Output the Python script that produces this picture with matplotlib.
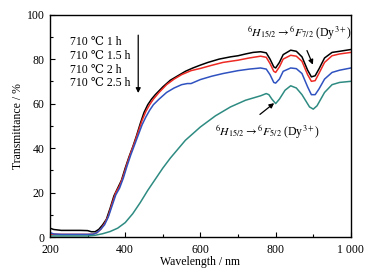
import matplotlib
matplotlib.use("Agg")
import matplotlib.pyplot as plt
import numpy as np

plt.rcParams['font.family'] = ['Liberation Serif', 'DejaVu Serif']
plt.rcParams['mathtext.fontset'] = 'stix'

# wavelength grid (nm) and transmittance (%)
WL_1H = [200, 210, 230, 280, 300, 310, 320, 330, 340, 350, 360, 370, 380, 390, 400, 410, 420,
         430, 440, 450, 460, 470, 480, 500, 520, 540, 560, 580, 600, 620, 650, 680, 700, 720,
         740, 760, 775, 785, 795, 800, 810, 820, 840, 855, 870, 885, 895, 905, 915, 930, 950,
         970, 1000]
T_1H = [4.0, 3.4, 3.0, 3.0, 2.9, 2.4, 2.4, 3.5, 5.5, 8.0, 13.0, 18.5, 22.0, 25.5, 31.0, 36.0,
        40.5, 45.5, 51.0, 56.0, 59.5, 62.0, 64.0, 67.5, 70.5, 72.5, 74.5, 76.0, 77.3, 78.5, 80.0,
        81.0, 81.5, 82.3, 83.0, 83.3, 82.8, 80.0, 76.5, 76.0, 78.5, 82.0, 84.0, 83.5, 81.0, 75.0,
        72.0, 72.5, 75.5, 80.5, 83.0, 83.5, 84.3]

WL_15H = [200, 230, 300, 315, 325, 335, 345, 355, 365, 375, 385, 395, 405, 415, 425, 435, 445,
          455, 465, 475, 490, 510, 530, 550, 575, 600, 630, 660, 700, 730, 760, 775, 785, 795,
          800, 810, 820, 840, 855, 870, 885, 895, 905, 915, 930, 950, 970, 1000]
T_15H = [1.3, 1.2, 1.2, 1.3, 2.0, 3.5, 6.0, 9.5, 15.0, 20.0, 23.0, 27.5, 33.0, 38.0, 42.5, 47.5,
         52.5, 56.5, 59.5, 62.0, 65.0, 68.5, 71.0, 73.0, 74.8, 75.8, 77.2, 78.5, 79.5, 80.5, 81.3,
         80.8, 78.0, 74.5, 74.0, 76.5, 80.0, 81.7, 81.3, 79.0, 73.0, 70.0, 70.3, 73.5, 78.5, 81.5,
         82.3, 83.0]

WL_2H = [200, 210, 230, 300, 315, 325, 335, 345, 355, 365, 375, 385, 395, 405, 415, 425, 435,
         445, 455, 465, 475, 490, 510, 530, 550, 565, 575, 600, 630, 660, 700, 730, 760, 775,
         785, 795, 800, 810, 820, 840, 855, 870, 885, 895, 905, 915, 930, 950, 970, 1000]
T_2H = [2.0, 1.4, 1.2, 1.2, 1.3, 2.0, 3.5, 5.5, 9.0, 14.0, 19.0, 22.0, 26.5, 32.0, 37.0, 41.5,
        46.0, 50.5, 54.0, 57.0, 59.5, 62.0, 65.0, 67.0, 68.5, 69.0, 69.0, 70.8, 72.3, 73.5, 74.8,
        75.5, 76.0, 75.5, 73.0, 69.5, 69.2, 71.0, 74.5, 76.0, 75.7, 73.5, 67.5, 64.0, 64.0, 66.5,
        71.0, 74.0, 75.0, 76.0]

WL_25H = [200, 250, 300, 320, 340, 360, 380, 400, 420, 440, 460, 480, 500, 520, 540, 560, 580,
          600, 620, 640, 660, 680, 700, 720, 740, 760, 775, 782, 790, 800, 810, 825, 840, 855,
          870, 890, 900, 910, 930, 950, 970, 1000]
T_25H = [0.5, 0.5, 0.5, 0.8, 1.5, 2.5, 4.0, 6.5, 10.5, 15.5, 21.0, 26.0, 31.0, 35.5, 39.5, 43.5,
         46.5, 49.5, 52.0, 54.5, 56.5, 58.5, 60.0, 61.5, 62.5, 63.5, 64.5, 64.0, 62.0, 60.0, 62.0,
         66.0, 68.0, 67.0, 64.0, 58.5, 57.5, 59.0, 65.0, 68.5, 69.5, 70.0]

SERIES = [
    (WL_1H, T_1H, '#000000'),
    (WL_15H, T_15H, '#ee2a24'),
    (WL_2H, T_2H, '#2f52c0'),
    (WL_25H, T_25H, '#2e8b82'),
]
LEGEND_LINES = ['710 \u2103 1 h', '710 \u2103 1.5 h', '710 \u2103 2 h', '710 \u2103 2.5 h']

fig = plt.figure(figsize=(3.86, 2.70), dpi=100)
ax = fig.add_axes([0.1295, 0.122, 0.7795, 0.824])

for wl, t, c in SERIES:
    ax.plot(wl, t, color=c, lw=1.1)

ax.set_xlim(200, 1000)
ax.set_ylim(0, 100)
ax.set_xticks([200, 400, 600, 800, 1000])
ax.set_xticklabels(['200', '400', '600', '800', '1 000'])
ax.set_xticks([300, 500, 700, 900], minor=True)
ax.set_yticks([0, 20, 40, 60, 80, 100])
ax.set_yticks(np.arange(10, 100, 20), minor=True)
ax.tick_params(which='both', direction='in', labelsize=8.5, top=False, right=False)
ax.tick_params(which='major', length=3.5, width=0.8)
ax.tick_params(which='minor', length=2, width=0.8)
ax.tick_params(axis='x', pad=5)
ax.tick_params(axis='y', pad=4)
for s in ax.spines.values():
    s.set_linewidth(1.0)

ax.set_xlabel('Wavelength / nm', fontsize=8.5, labelpad=0)
ax.set_ylabel('Transmittance / %', fontsize=8.5, labelpad=2)

# legend-like text and arrow
for i, txt in enumerate(LEGEND_LINES):
    ax.text(252, 87.7 - i * 6.2, txt, fontsize=8.5, va='center', ha='left')
ax.annotate('', xy=(434.6, 63.5), xytext=(434.6, 92),
            arrowprops=dict(arrowstyle='-|>', color='k', lw=0.9, mutation_scale=7))

ax.annotate(r'$^6H_{15/2}\rightarrow{}^6F_{7/2}$ (Dy$^{3+}$)', xy=(899, 77.5), xytext=(863, 92),
            fontsize=8.5, ha='center', va='center',
            arrowprops=dict(arrowstyle='-|>', color='k', lw=0.9, mutation_scale=7,
                            shrinkA=5, shrinkB=0))
ax.annotate(r'$^6H_{15/2}\rightarrow{}^6F_{5/2}$ (Dy$^{3+}$)', xy=(796, 60.2), xytext=(779, 47.5),
            fontsize=8.5, ha='center', va='center',
            arrowprops=dict(arrowstyle='-|>', color='k', lw=0.9, mutation_scale=7,
                            shrinkA=6, shrinkB=0, relpos=(0.33, 1.0)))

fig.savefig('out.png', dpi=100)
